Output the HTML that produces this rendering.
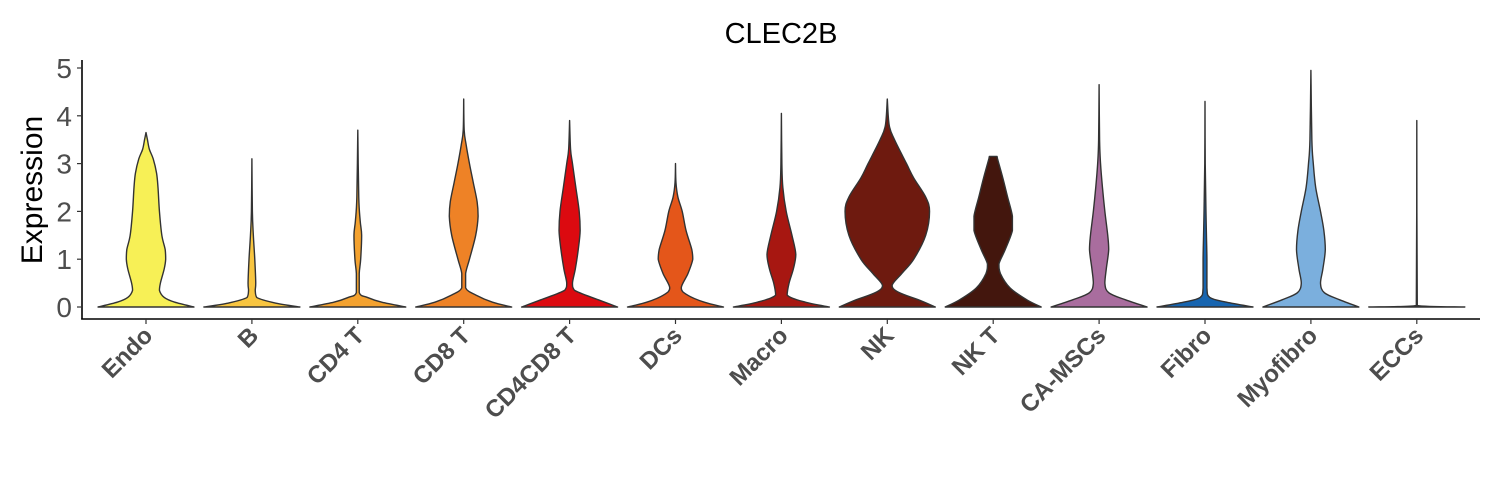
<!DOCTYPE html>
<html><head><meta charset="utf-8"><style>
body{margin:0;background:#fff}
svg{display:block}
text{font-family:"Liberation Sans",Arial,sans-serif}
</style></head><body>
<svg id="chart" width="1500" height="500" viewBox="0 0 1500 500">
<text x="781" y="43" text-anchor="middle" font-size="29" fill="#000">CLEC2B</text>
<text transform="translate(42,190) rotate(-90)" text-anchor="middle" font-size="30" fill="#000">Expression</text>
<g id="violins"></g>
<g id="axes"></g>
</svg>
<script>
const categories=["Endo","B","CD4 T","CD8 T","CD4CD8 T","DCs","Macro","NK","NK T","CA-MSCs","Fibro","Myofibro","ECCs"];
const colors=["#F7F056","#F8C540","#F4A22F","#EE8226","#DC0A10","#E4561A","#A71711","#6E1A0F","#43160D","#A96D9E","#1765B0","#7BAFDD","#BBBBBB"];
const yTicks=[0,1,2,3,4,5];
// density profiles: [expression, relative half-width]
const profEndo=[[0,1],[0.1,0.6],[0.2,0.38],[0.35,0.28],[0.5,0.3],[0.8,0.38],[1.0,0.41],[1.2,0.4],[1.5,0.33],[2.0,0.28],[2.5,0.25],[2.8,0.22],[3.1,0.15],[3.3,0.07],[3.5,0.03],[3.65,0]];
const profB=[[0,1],[0.08,0.5],[0.2,0.1],[0.35,0.07],[0.5,0.08],[1.0,0.06],[1.5,0.03],[2.0,0.01],[3.1,0]];
const profCD4=[[0,1],[0.1,0.5],[0.2,0.2],[0.3,0.03],[0.7,0.03],[1.0,0.06],[1.5,0.08],[1.8,0.05],[2.3,0.02],[3.7,0]];
const profCD8=[[0,1],[0.1,0.6],[0.25,0.25],[0.4,0.04],[0.7,0.04],[1.0,0.12],[1.5,0.25],[1.9,0.3],[2.2,0.28],[2.6,0.2],[3.0,0.12],[3.4,0.05],[3.7,0.01],[4.35,0]];
const profCD4CD8=[[0,1],[0.15,0.6],[0.35,0.1],[0.5,0.06],[0.8,0.12],[1.2,0.18],[1.6,0.22],[2.0,0.2],[2.5,0.13],[3.0,0.06],[3.3,0.02],[3.9,0]];
const profDCs=[[0,1],[0.1,0.6],[0.25,0.25],[0.4,0.12],[0.7,0.26],[1.0,0.36],[1.2,0.34],[1.6,0.22],[2.0,0.14],[2.3,0.05],[2.6,0.01],[3.0,0]];
const profMacro=[[0,1],[0.1,0.5],[0.25,0.12],[0.5,0.16],[0.8,0.25],[1.1,0.3],[1.5,0.22],[2.0,0.1],[2.5,0.03],[3.0,0.01],[4.05,0]];
const profNK=[[0,1],[0.15,0.65],[0.3,0.25],[0.45,0.1],[0.7,0.3],[1.0,0.55],[1.5,0.8],[2.0,0.88],[2.3,0.8],[2.7,0.55],[3.0,0.4],[3.5,0.15],[3.8,0.04],[4.35,0]];
const profNKT=[[0,1],[0.15,0.7],[0.4,0.35],[0.7,0.15],[0.9,0.12],[1.2,0.25],[1.6,0.4],[1.9,0.4],[2.3,0.3],[2.7,0.2],[3.1,0.09],[3.15,0.08]];
const profCAMSC=[[0,1],[0.15,0.55],[0.3,0.2],[0.5,0.12],[0.8,0.15],[1.2,0.2],[1.5,0.18],[2.0,0.12],[2.5,0.07],[3.0,0.03],[3.5,0.01],[4.65,0]];
const profFibro=[[0,1],[0.1,0.45],[0.2,0.1],[0.4,0.04],[1.0,0.04],[1.5,0.03],[2.0,0.02],[3.0,0.005],[4.3,0]];
const profMyo=[[0,1],[0.15,0.6],[0.3,0.28],[0.5,0.2],[0.8,0.25],[1.2,0.3],[1.6,0.27],[2.0,0.2],[2.5,0.1],[3.0,0.05],[3.5,0.02],[4.95,0]];
const profECC=[[0,1],[0.03,0.01],[3.9,0]];
const profiles=[profEndo,profB,profCD4,profCD8,profCD4CD8,profDCs,profMacro,profNK,profNKT,profCAMSC,profFibro,profMyo,profECC];

const x0=146,dx=105.9,halfMax=48;
const xPos=i=>x0+dx*i;
const yPos=v=>307-47.8*v;
const NS="http://www.w3.org/2000/svg";
function mk(tag,attrs,parent){const e=document.createElementNS(NS,tag);for(const k in attrs)e.setAttribute(k,attrs[k]);parent.appendChild(e);return e;}
const clamp=(v,a,b)=>Math.max(Math.min(a,b),Math.min(Math.max(a,b),v));
function smooth(pts){
  let d="";
  for(let i=0;i<pts.length-1;i++){
    const p0=pts[Math.max(0,i-1)],p1=pts[i],p2=pts[i+1],p3=pts[Math.min(pts.length-1,i+2)];
    const c1=[clamp(p1[0]+(p2[0]-p0[0])/6,p1[0],p2[0]),clamp(p1[1]+(p2[1]-p0[1])/6,p1[1],p2[1])];
    const c2=[clamp(p2[0]-(p3[0]-p1[0])/6,p1[0],p2[0]),clamp(p2[1]-(p3[1]-p1[1])/6,p1[1],p2[1])];
    d+=` C${c1[0].toFixed(2)},${c1[1].toFixed(2)} ${c2[0].toFixed(2)},${c2[1].toFixed(2)} ${p2[0].toFixed(2)},${p2[1].toFixed(2)}`;
  }
  return d;
}
const vg=document.getElementById('violins');
profiles.forEach((prof,i)=>{
  const cx=xPos(i);
  const right=prof.map(p=>[cx+p[1]*halfMax,yPos(p[0])]);
  const left=prof.slice().reverse().map(p=>[cx-p[1]*halfMax,yPos(p[0])]);
  let d=`M${cx},${yPos(0)} L${right[0][0]},${right[0][1]}`+smooth(right)+` L${left[0][0]},${left[0][1]}`+smooth(left)+" Z";
  const p=mk('path',{d:d,fill:colors[i],stroke:"#333",'stroke-width':1.4,'stroke-linejoin':'round'},vg);
  
  
});
const ag=document.getElementById('axes');
const yl=mk('line',{x1:82,y1:60,x2:82,y2:319.5,stroke:"#000",'stroke-width':1.6},ag);


const xl=mk('line',{x1:81.2,y1:319,x2:1480,y2:319,stroke:"#000",'stroke-width':1.6},ag);


yTicks.forEach(v=>{
  const t=mk('line',{x1:77,y1:yPos(v),x2:82,y2:yPos(v),stroke:"#333",'stroke-width':1.2},ag);
  
  
  const l=mk('text',{x:72,y:yPos(v)+10,'text-anchor':'end','font-size':28,fill:"#4d4d4d"},ag);
  l.textContent=v;
  
  
});
categories.forEach((c,i)=>{
  const x=xPos(i);
  const t=mk('line',{x1:x,y1:319,x2:x,y2:324,stroke:"#333",'stroke-width':1.2},ag);
  
  
  const l=mk('text',{transform:`translate(${x+8},${337}) rotate(-45)`,'text-anchor':'end','font-size':24,'font-weight':'bold',fill:"#4d4d4d"},ag);
  l.textContent=c;
  
  
});
</script>
</body></html>
